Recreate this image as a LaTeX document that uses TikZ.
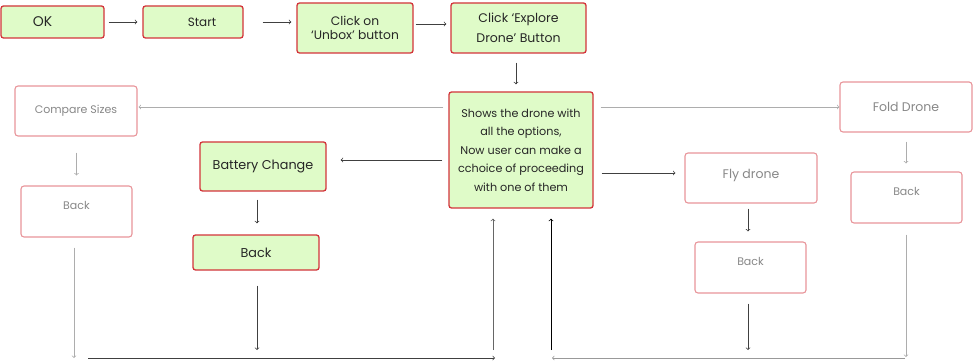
\documentclass[tikz,border=0pt]{standalone}
\usepackage{fontspec}
\setmainfont{Poppins}
\usetikzlibrary{positioning}

\definecolor{boxgreen}{HTML}{DFFBC8}
\definecolor{boxred}{HTML}{D3343A}
\definecolor{palered}{HTML}{E8959A}
\definecolor{paletext}{HTML}{888888}

\begin{document}
\begin{tikzpicture}[x=1pt,y=-1pt,
  greenbox/.style={draw=boxred,line width=1.3pt,fill=boxgreen,rounded corners=2.5pt,align=center,inner sep=0pt,text=black!85},
  palebox/.style={draw=palered,line width=1.1pt,fill=white,rounded corners=3pt,align=center,inner sep=0pt,text=paletext},
  paleback/.style={palebox,text depth=12pt,font=\fontsize{11}{13}\selectfont},
  darkarrow/.style={->,black!75,line width=0.75pt},
  greyarrow/.style={->,black!32,line width=0.75pt}]

\useasboundingbox (0,0) rectangle (973,363);

\node[greenbox,minimum width=103pt,minimum height=32pt,font=\fontsize{14}{16}\selectfont] (OK) at (52.5,22) {OK\hspace*{20pt}};

\node[greenbox,minimum width=100pt,minimum height=32pt,font=\fontsize{12}{14}\selectfont] (Start) at (193,22) {\hspace*{18pt}Start};

\node[greenbox,minimum width=116pt,minimum height=50pt,font=\fontsize{12.3}{14}\selectfont] (Unbox) at (355,28) {Click on\\‘Unbox’ button};

\node[greenbox,minimum width=135pt,minimum height=50pt,font=\fontsize{12.5}{20}\selectfont] (Explore) at (518.5,28) {Click ‘Explore\\Drone’ Button};

\node[greenbox,minimum width=144pt,minimum height=116pt,font=\fontsize{11.2}{18.5}\selectfont] (Options) at (521,150) {Shows the drone with\\all the options,\\Now user can make a\\cchoice of proceeding\\with one of them};

\node[palebox,minimum width=122pt,minimum height=50pt,font=\fontsize{11}{13}\selectfont] (Compare) at (76,111) {Compare Sizes};

\node[paleback,minimum width=111pt,minimum height=51pt] (BackC) at (76.5,211.5) {Back};

\node[greenbox,minimum width=126pt,minimum height=49pt,font=\fontsize{12.8}{15}\selectfont] (Battery) at (263,166.5) {Battery Change};

\node[greenbox,minimum width=126pt,minimum height=35pt,font=\fontsize{12.8}{15}\selectfont] (BackB) at (256,252.5) {Back};

\node[palebox,minimum width=132pt,minimum height=50pt,text depth=9pt,font=\fontsize{12.5}{15}\selectfont] (Fly) at (751,178) {Fly drone};

\node[paleback,minimum width=111pt,minimum height=51pt] (BackF) at (750.5,267.5) {Back};

\node[palebox,minimum width=132pt,minimum height=50pt,font=\fontsize{12.5}{15}\selectfont] (Fold) at (906,107) {Fold Drone};

\node[paleback,minimum width=111pt,minimum height=51pt] (BackD) at (906.5,197.5) {Back};

\coordinate (C1) at (74,358);
\coordinate (C2) at (257,350);
\coordinate (C3) at (748,350);
\coordinate (C4) at (906,357);
\coordinate (C5) at (88,358);
\coordinate (C6) at (495,358);
\coordinate (C7) at (905,358);
\coordinate (C8) at (552,358);
\coordinate (C9) at (493,350);
\coordinate (C10) at (551,350);
\coordinate (C11) at (516,0);

\draw[darkarrow,shorten <=4pt,shorten >=5pt] (OK) -- (Start);
\draw[darkarrow,shorten <=19pt,shorten >=5pt] (Start.east) -- (Start.east -| Unbox.west);
\draw[darkarrow,shorten <=2pt,shorten >=4pt] ([yshift=4pt]Unbox.east) -- ([yshift=4pt]Explore.west);
\draw[darkarrow,shorten <=9pt,shorten >=7pt] (Explore.south -| C11) -- (Options.north -| C11);

\draw[greyarrow,shorten <=5pt,shorten >=1pt] ([yshift=4pt]Options.west |- Compare.east) -- ([yshift=4pt]Compare.east);
\draw[darkarrow,shorten <=6pt,shorten >=14pt] ([yshift=6.5pt]Options.west |- Battery.east) -- ([yshift=6.5pt]Battery.east);
\draw[greyarrow,shorten <=7pt] (Options.east |- Fold.west) -- (Fold.west);
\draw[darkarrow,shorten <=8pt,shorten >=9pt] ([yshift=5pt]Options.east |- Fly.west) -- ([yshift=5pt]Fly.west);

\draw[greyarrow,shorten <=16pt,shorten >=10pt] (Compare.south -| BackC.north) -- (BackC.north);
\draw[darkarrow,shorten <=8pt,shorten >=11pt] (Battery.south -| C2) -- (BackB.north -| C2);
\draw[darkarrow,shorten <=5pt,shorten >=10pt] (Fly.south -| C3) -- (BackF.north -| C3);
\draw[greyarrow,shorten <=9pt,shorten >=8pt] (Fold.south -| C4) -- (BackD.north -| C4);

\draw[greyarrow] ([yshift=-10pt]BackC.south -| C1) -- (C1);
\draw[darkarrow] ([yshift=-15pt]BackB.south -| C2) -- (C2);
\draw[darkarrow] ([yshift=-10pt]BackF.south -| C3) -- (C3);
\draw[greyarrow] ([yshift=-11pt]BackD.south -| C4) -- (C4);

\draw[darkarrow] (C5) -- (C6);
\draw[greyarrow,black!40] (C7) -- (C8);
\draw[darkarrow,black!60,shorten >=10pt] (C9) -- (C9 |- Options.south);
\draw[darkarrow,black,shorten >=10pt] (C10) -- (C10 |- Options.south);
\end{tikzpicture}
\end{document}
